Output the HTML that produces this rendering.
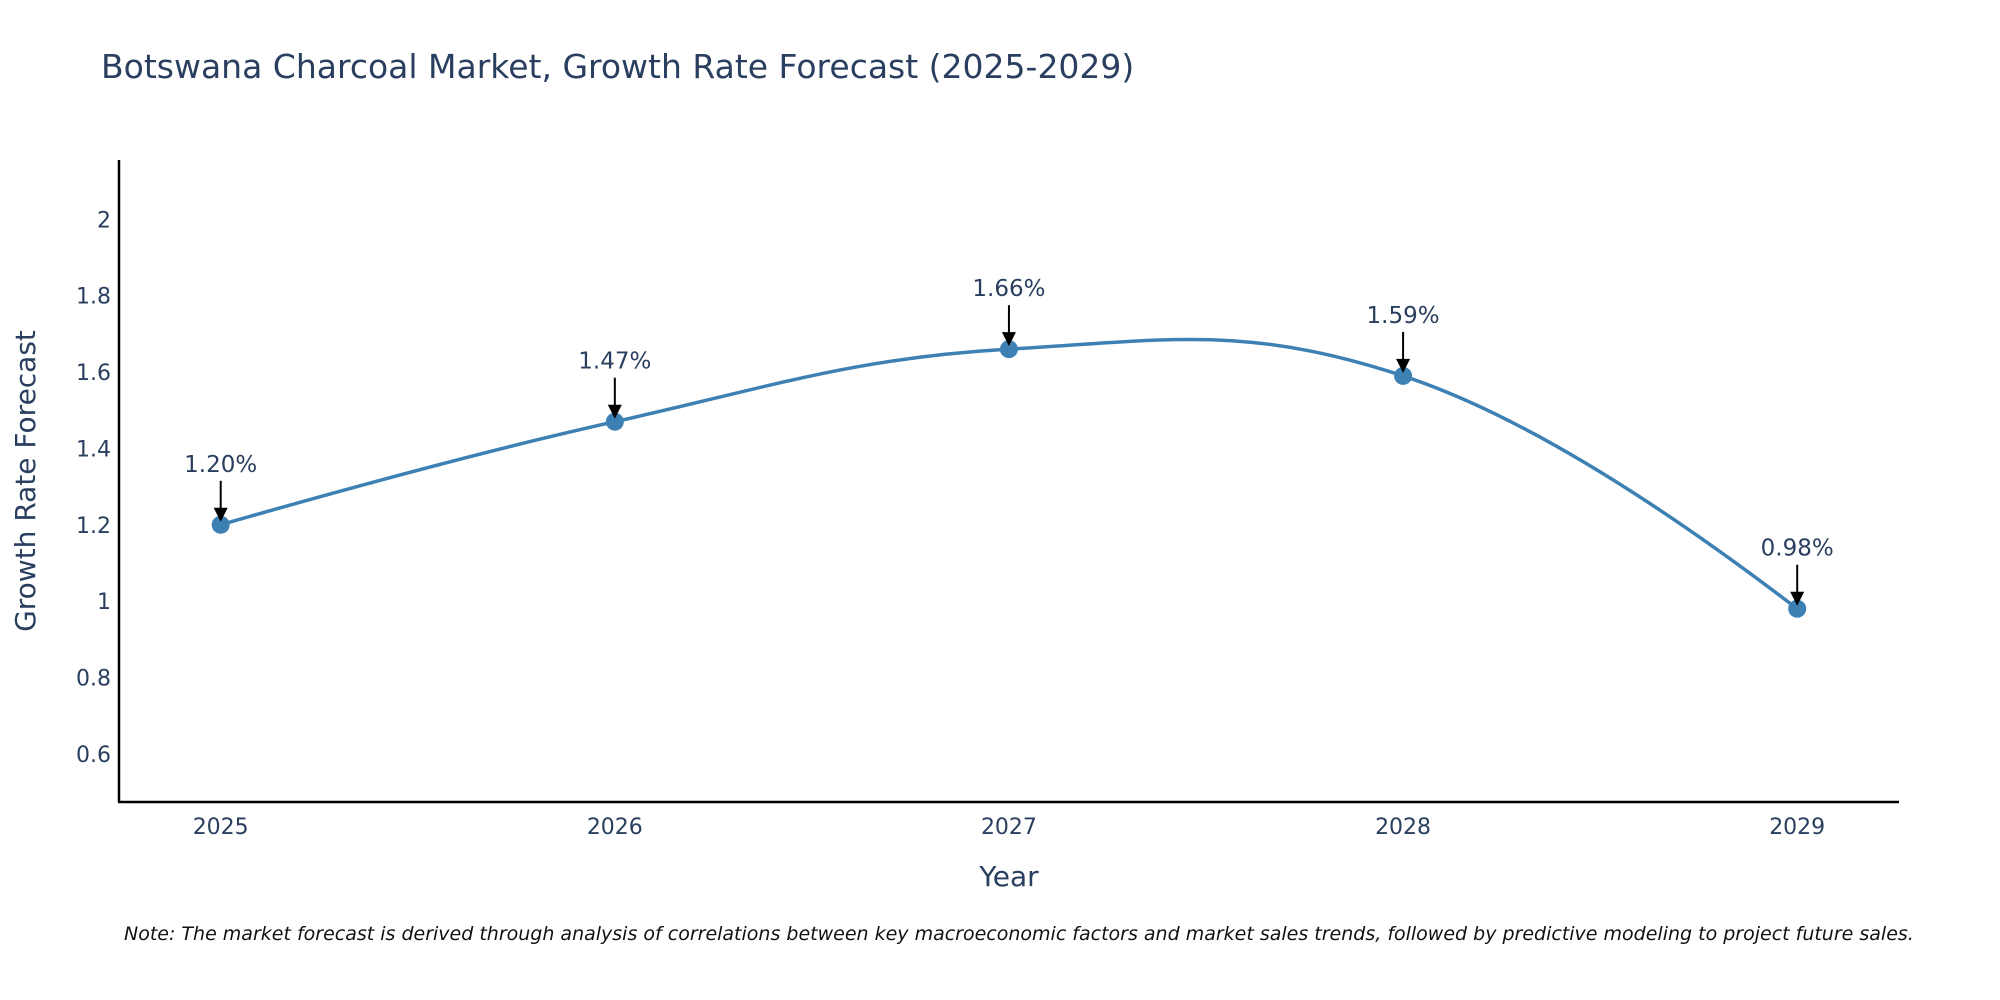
<!DOCTYPE html>
<html><head><meta charset="utf-8"><style>
html,body{margin:0;padding:0;background:#fff;width:2000px;height:1000px;overflow:hidden}
text{font-family:"DejaVu Sans","Liberation Sans",sans-serif;fill:#2a3f5f}
</style></head><body>
<svg id="chart" width="2000" height="1000" xmlns="http://www.w3.org/2000/svg">
<text x="101" y="78" font-size="33">Botswana Charcoal Market, Growth Rate Forecast (2025-2029)</text>
<g id="yticks"></g>
<g id="xticks"></g>
<line x1="119" y1="160" x2="119" y2="802" stroke="#000" stroke-width="2.5"/>
<line x1="118" y1="802" x2="1899" y2="802" stroke="#000" stroke-width="2.5"/>
<text transform="translate(35,481) rotate(-90)" text-anchor="middle" font-size="28">Growth Rate Forecast</text>
<text x="1009" y="886" text-anchor="middle" font-size="28">Year</text>
<g id="series"></g>
<text x="124" y="940" font-size="19" font-style="italic" style="fill:#111">Note: The market forecast is derived through analysis of correlations between key macroeconomic factors and market sales trends, followed by predictive modeling to project future sales.</text>
</svg>
<script>
const years = [2025, 2026, 2027, 2028, 2029];
const growth = [1.20, 1.47, 1.66, 1.59, 0.98];
const labels = ["1.20%", "1.47%", "1.66%", "1.59%", "0.98%"];
const yTickVals = [0.6, 0.8, 1, 1.2, 1.4, 1.6, 1.8, 2];
const yTickLabels = ["0.6", "0.8", "1", "1.2", "1.4", "1.6", "1.8", "2"];

const NS = "http://www.w3.org/2000/svg";
function xs(v){ return 220.7 + (v - 2025) * (1797.2 - 220.7) / 4; }
function ys(v){ return 753.8 - (v - 0.6) * (753.8 - 219.4) / 1.4; }
function mk(tag, attrs, parent){ const e = document.createElementNS(NS, tag); for (const k in attrs) e.setAttribute(k, attrs[k]); parent.appendChild(e); return e; }

const yt = document.getElementById("yticks");
yTickVals.forEach((v, i) => {
  const t = mk("text", {x: 111, y: ys(v) + 8, "text-anchor": "end", "font-size": 22}, yt);
  
  
  t.textContent = yTickLabels[i];
});
const xt = document.getElementById("xticks");
years.forEach(y => {
  const t = mk("text", {x: xs(y), y: 834, "text-anchor": "middle", "font-size": 22}, xt);
  
  
  t.textContent = String(y);
});

const g = document.getElementById("series");
const pts = years.map((y, i) => [xs(y), ys(growth[i])]);
const n = pts.length;
const k = 0.2;
const cin = [], cout = [];
for (let i = 1; i < n - 1; i++) {
  const tx = pts[i+1][0] - pts[i-1][0], ty = pts[i+1][1] - pts[i-1][1];
  cin[i] = [pts[i][0] - tx * k, pts[i][1] - ty * k];
  cout[i] = [pts[i][0] + tx * k, pts[i][1] + ty * k];
}
let d = "M" + pts[0][0] + "," + pts[0][1];
d += " Q" + cin[1][0] + "," + cin[1][1] + " " + pts[1][0] + "," + pts[1][1];
for (let i = 1; i < n - 2; i++) {
  d += " C" + cout[i][0] + "," + cout[i][1] + " " + cin[i+1][0] + "," + cin[i+1][1] + " " + pts[i+1][0] + "," + pts[i+1][1];
}
d += " Q" + cout[n-2][0] + "," + cout[n-2][1] + " " + pts[n-1][0] + "," + pts[n-1][1];
const line = mk("path", {d: d, fill: "none", stroke: "#3d80b4", "stroke-width": 3.5}, g);



pts.forEach((p, i) => {
  const c = mk("circle", {cx: p[0], cy: p[1], r: 9, fill: "#3d80b4"}, g);
  
  
  const a = mk("line", {x1: p[0], y1: p[1] - 44, x2: p[0], y2: p[1] - 14, stroke: "#000", "stroke-width": 2}, g);
  
  
  const h = mk("polygon", {points: (p[0]-7)+","+(p[1]-17)+" "+(p[0]+7)+","+(p[1]-17)+" "+p[0]+","+(p[1]-3), fill: "#000"}, g);
  
  
  const t = mk("text", {x: p[0], y: p[1] - 53, "text-anchor": "middle", "font-size": 23}, g);
  
  
  t.textContent = labels[i];
});
</script>
</body></html>
